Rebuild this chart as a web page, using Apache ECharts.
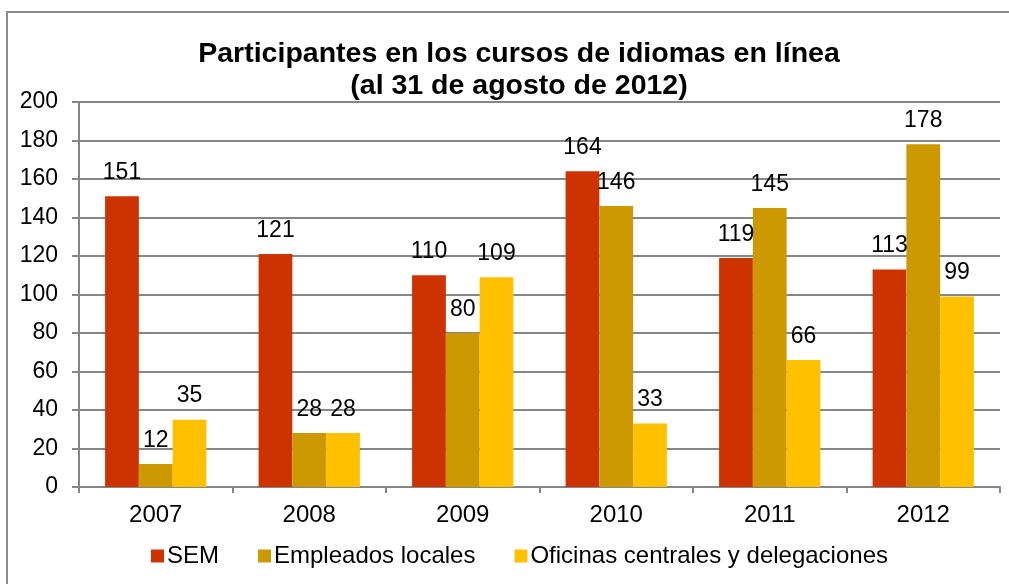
<!DOCTYPE html>
<html>
<head>
<meta charset="utf-8">
<script src="https://cdn.jsdelivr.net/npm/echarts@6/dist/echarts.min.js"></script>
<style>
html,body{margin:0;padding:0;background:#fff;}
#chart{width:1009px;height:584px;}
</style>
</head>
<body>
<div id="chart"></div>
<script>
const categories = ['2007', '2008', '2009', '2010', '2011', '2012'];
const seriesNames = ['SEM', 'Empleados locales', 'Oficinas centrales y delegaciones'];
const semValues = [151, 121, 110, 164, 119, 113];
const empleadosValues = [12, 28, 80, 146, 145, 178];
const oficinasValues = [35, 28, 109, 33, 66, 99];
const yTicks = [0, 20, 40, 60, 80, 100, 120, 140, 160, 180, 200];
const titleLines = ['Participantes en los cursos de idiomas en línea', '(al 31 de agosto de 2012)'];
const colors = ['#CC3300', '#CC9900', '#FFC000'];

const FONT = '"Liberation Sans", Arial, sans-serif';
const chart = echarts.init(document.getElementById('chart'), null, {renderer: 'canvas'});

const labelCfg = {
  show: true,
  position: 'top',
  distance: 12,
  color: '#000',
  fontFamily: FONT,
  fontSize: 23
};

const allValues = [semValues, empleadosValues, oficinasValues];

chart.setOption({
  animation: false,
  backgroundColor: '#fff',
  title: {
    text: titleLines.join('\n'),
    left: 514,
    textAlign: 'center',
    top: 33,
    textStyle: {
      fontFamily: FONT,
      fontWeight: 'bold',
      fontSize: 28.5,
      lineHeight: 32,
      color: '#000'
    }
  },
  graphic: [{
    type: 'rect',
    shape: {x: 7, y: 12, width: 1100, height: 700},
    style: {fill: 'none', stroke: '#8c8c8c', lineWidth: 2},
    silent: true,
    z: 0
  }],
  legend: {
    data: seriesNames,
    left: 146,
    top: 539,
    itemWidth: 13,
    itemHeight: 13,
    itemGap: 39,
    icon: 'rect',
    textStyle: {fontFamily: FONT, fontSize: 24, color: '#000', padding: [0, 0, 0, -2]}
  },
  grid: {left: 79, right: 9, top: 102, bottom: 97, containLabel: false},
  xAxis: {
    type: 'category',
    data: categories,
    axisLine: {show: true, lineStyle: {color: '#868686', width: 2}},
    axisTick: {show: true, length: 6, alignWithLabel: false, lineStyle: {color: '#868686', width: 2}},
    axisLabel: {fontFamily: FONT, fontSize: 24, color: '#000', margin: 16}
  },
  yAxis: {
    type: 'value',
    min: yTicks[0],
    max: yTicks[yTicks.length - 1],
    interval: yTicks[1] - yTicks[0],
    axisLine: {show: true, lineStyle: {color: '#868686', width: 2}},
    axisTick: {show: true, length: 7, lineStyle: {color: '#868686', width: 2}},
    axisLabel: {fontFamily: FONT, fontSize: 23, color: '#000', margin: 21},
    splitLine: {show: true, lineStyle: {color: '#868686', width: 2}}
  },
  series: seriesNames.map((name, i) => ({
    name: name,
    type: 'bar',
    data: allValues[i],
    barGap: '0%',
    barCategoryGap: '34%',
    itemStyle: {color: colors[i]},
    label: labelCfg
  }))
});
</script>
</body>
</html>
